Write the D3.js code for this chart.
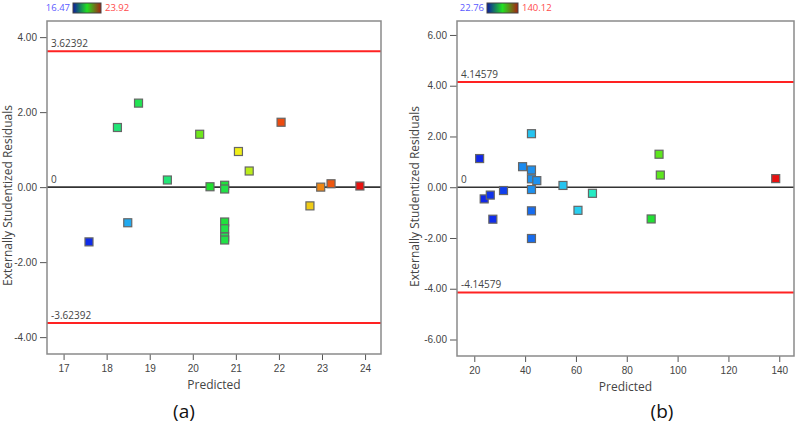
<!DOCTYPE html>
<html>
<head>
<meta charset="utf-8">
<script src="https://cdn.jsdelivr.net/npm/d3@7"></script>
<style>
  body{margin:0;background:#fff;}
  svg{display:block;font-family:"Open Sans","Noto Sans",sans-serif;}
  .axis path{display:none;}
  .axis line{stroke:#555;stroke-width:1;}
  .axis text{fill:#444;font-size:10px;}
  .frame{fill:none;stroke:#8a8a8a;stroke-width:1.5;}
  .zero{stroke:#333;stroke-width:1.6;}
  .limit{stroke:#f22;stroke-width:2;}
  .lbl{fill:#444;font-size:10px;}
  .pt{stroke:#666;stroke-width:1.2;}
</style>
</head>
<body>
<div id="chart"></div>
<script>
// panel (a)
const aPred=[17.59,18.49,18.25,18.74,19.41,20.16,20.40,20.74,20.74,20.74,20.74,20.74,20.74,21.06,21.31,22.05,22.72,22.97,23.21,23.88];
const aResid=[-1.46,-0.95,1.59,2.24,0.19,1.41,0.01,0.05,-0.05,-0.93,-1.11,-1.33,-1.41,0.95,0.43,1.73,-0.50,0.00,0.09,0.03];
const aActual=[16.6,17.9,19.6,19.9,19.6,21.0,20.2,20.1,20.0,20.1,20.0,19.9,20.0,22.0,21.6,23.4,22.3,22.9,23.3,23.9];
const aLimit=3.62392;
const aRange=[16.47,23.92];
const aXTicks=[17,18,19,20,21,22,23,24];
const aYTicks=[-4,-2,0,2,4];

// panel (b)
const bPred=[22.1,23.9,26.3,27.3,31.5,39.0,42.5,42.5,42.5,44.6,42.5,42.5,42.5,54.9,60.8,66.5,89.6,92.7,93.2,138.6];
const bResid=[1.13,-0.46,-0.31,-1.26,-0.13,0.81,2.11,0.68,0.33,0.26,-0.09,-0.93,-2.02,0.07,-0.91,-0.24,-1.25,1.30,0.48,0.34];
const bActual=[24,24,26,25,28,40,50,41,41,41,41,35,35,50,52,62,81,92,92,140];
const bLimit=4.14579;
const bRange=[22.76,140.12];
const bXTicks=[20,40,60,80,100,120,140];
const bYTicks=[-6,-4,-2,0,2,4,6];

const svg=d3.select('#chart').append('svg').attr('width',799).attr('height',427);
const defs=svg.append('defs');
const grad=defs.append('linearGradient').attr('id','cbar');
[['0%','#0c1aa0'],['50%','#22e022'],['100%','#a82010']].forEach(s=>
  grad.append('stop').attr('offset',s[0]).attr('stop-color',s[1]));

function panel(o){
  const x=d3.scaleLinear().domain(o.xDom).range([o.L,o.R]),
        y=d3.scaleLinear().domain(o.yDom).range([o.B,o.T]);
  const c=d3.scaleLinear()
    .domain(d3.range(5).map(i=>o.range[0]+i*(o.range[1]-o.range[0])/4))
    .range(['#1020e8','#28d0f0','#20e030','#f0e818','#e81010'])
    .interpolate(d3.interpolateHsl).clamp(true);
  const g=svg.append('g');

  g.append('g').attr('class','axis')
    .attr('transform',`translate(${o.L},0)`)
    .call(d3.axisLeft(y).tickValues(o.yTicks).tickSize(7).tickPadding(3).tickFormat(d=>d.toFixed(2)));
  g.append('g').attr('class','axis')
    .attr('transform',`translate(0,${o.B})`)
    .call(d3.axisBottom(x).tickValues(o.xTicks).tickSize(6).tickPadding(5));

  g.append('line').attr('class','zero').attr('x1',o.L).attr('x2',o.R).attr('y1',y(0)).attr('y2',y(0));
  [o.limit,-o.limit].forEach(v=>{
    g.append('line').attr('class','limit').attr('x1',o.L).attr('x2',o.R).attr('y1',y(v)).attr('y2',y(v));
    g.append('text').attr('class','lbl').attr('x',o.L+4).attr('y',y(v)-4).text(v.toFixed(5));
  });
  g.append('text').attr('class','lbl').attr('x',o.L+4).attr('y',y(0)-4).text('0');

  const s=8;
  g.selectAll('rect.pt').data(o.pred.map((p,i)=>({p,r:o.resid[i],a:o.actual[i]})))
    .enter().append('rect').attr('class','pt')
    .attr('x',d=>x(d.p)-s/2).attr('y',d=>y(d.r)-s/2)
    .attr('width',s).attr('height',s)
    .attr('fill',d=>c(d.a));

  g.append('rect').attr('class','frame').attr('x',o.L).attr('y',o.T).attr('width',o.R-o.L).attr('height',o.B-o.T);

  g.append('text').attr('x',(o.L+o.R)/2).attr('y',o.B+35).attr('text-anchor','middle')
    .attr('fill','#444').style('font-size','12px').text('Predicted');
  g.append('text').attr('transform',`translate(${o.yTitleX},${(o.T+o.B)/2+8}) rotate(-90)`)
    .attr('text-anchor','middle').attr('fill','#444').style('font-size','12px')
    .text('Externally Studentized Residuals');
  g.append('text').attr('x',o.capX).attr('y',418).attr('text-anchor','middle')
    .attr('fill','#111').style('font-size','19px').text(o.cap);

  // colour key
  g.append('text').attr('x',o.barX-3).attr('y',11).attr('text-anchor','end')
    .attr('fill','#5a5aff').style('font-size','9.5px').text(o.range[0]);
  g.append('rect').attr('x',o.barX).attr('y',3).attr('width',o.barW).attr('height',10)
    .attr('fill','url(#cbar)').attr('stroke','#444').attr('stroke-width',1);
  g.append('text').attr('x',o.barX+o.barW+4).attr('y',11)
    .attr('fill','#ff4a4a').style('font-size','9.5px').text(o.range[1]);
}

panel({pred:aPred,resid:aResid,actual:aActual,limit:aLimit,range:aRange,xTicks:aXTicks,yTicks:aYTicks,
  xDom:[16.615,24.37],yDom:[-4.45,4.43],L:47,R:381,T:21,B:354,yTitleX:12,capX:184,cap:'(a)',barX:73,barW:28});
panel({pred:bPred,resid:bResid,actual:bActual,limit:bLimit,range:bRange,xTicks:bXTicks,yTicks:bYTicks,
  xDom:[13.2,145.8],yDom:[-6.65,6.55],L:457,R:794,T:21,B:356,yTitleX:419,capX:662,cap:'(b)',barX:487,barW:31});
</script>
</body>
</html>
